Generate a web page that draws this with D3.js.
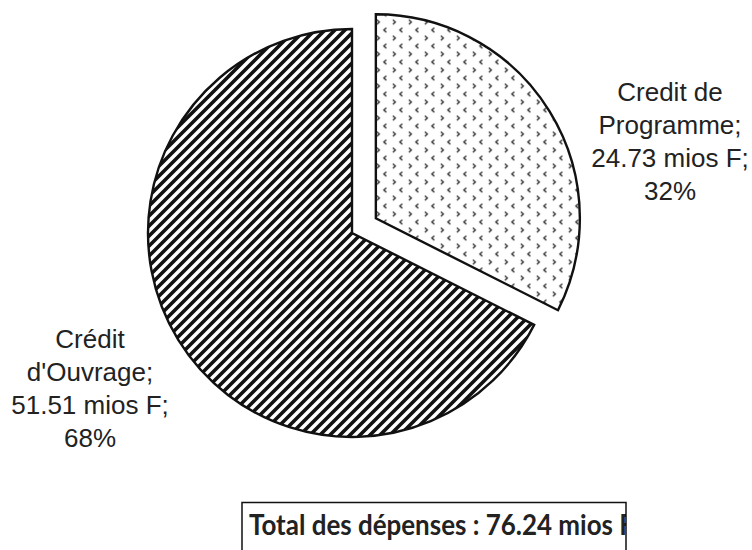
<!DOCTYPE html>
<html>
<head>
<meta charset="utf-8">
<script src="https://cdn.jsdelivr.net/npm/d3@7/dist/d3.min.js"></script>
<style>
  html, body { margin: 0; padding: 0; background: #fff; }
  svg { display: block; }
</style>
</head>
<body>
<svg id="chart" width="752" height="550"></svg>
<script>
// ---- data ----
const categories = ["Credit de Programme", "Crédit d'Ouvrage"];
const labelNameLines = [["Credit de", "Programme;"], ["Crédit", "d'Ouvrage;"]];
const values = [24.73, 51.51];
const percentLabels = ["32%", "68%"];
const totalLabel = "Total des dépenses : 76.24 mios F";

// ---- layout ----
const svg = d3.select("#chart");
const cx = 352, cy = 233, radius = 204, explode = 28;

const defs = svg.append("defs");
// dotted "< >" pattern
const dots = defs.append("pattern")
  .attr("id", "dots").attr("patternUnits", "userSpaceOnUse")
  .attr("width", 16).attr("height", 16);
dots.append("rect").attr("width", 16).attr("height", 16).attr("fill", "#fff");
dots.append("path").attr("d", "M10.5,1.5 L8,3.8 L10.5,6.1")
  .attr("fill", "none").attr("stroke", "#333").attr("stroke-width", 1.4);
dots.append("path").attr("d", "M1,9.5 L3.5,11.8 L1,14.1")
  .attr("fill", "none").attr("stroke", "#333").attr("stroke-width", 1.4);

// diagonal stripes pattern
const stripes = defs.append("pattern")
  .attr("id", "stripes").attr("patternUnits", "userSpaceOnUse")
  .attr("width", 10).attr("height", 10);
stripes.append("rect").attr("width", 10).attr("height", 10).attr("fill", "#fff");
stripes.append("path").attr("d", "M-5,5 L5,-5 M0,10 L10,0 M5,15 L15,5")
  .attr("stroke", "#111").attr("stroke-width", 3.6);

const fills = ["url(#dots)", "url(#stripes)"];

const pie = d3.pie().sort(null).value(d => d).startAngle(0).endAngle(2 * Math.PI);
const arcs = pie(values);
const arc = d3.arc().innerRadius(0).outerRadius(radius);

const g = svg.append("g").attr("transform", `translate(${cx},${cy})`);
g.selectAll("path.slice")
  .data(arcs)
  .join("path")
  .attr("class", "slice")
  .attr("transform", (d, i) => {
    if (i !== 0) return null;
    const a = (d.startAngle + d.endAngle) / 2;
    return `translate(${explode * Math.sin(a)},${-explode * Math.cos(a)})`;
  })
  .attr("d", arc)
  .attr("fill", (d, i) => fills[i])
  .attr("stroke", "#111")
  .attr("stroke-width", 2.4)
  .attr("stroke-linejoin", "miter");

// ---- data labels ----
const labelPos = [{x: 670, y: 101}, {x: 90, y: 348}];
const lineH = 33;
values.forEach((v, i) => {
  const lines = [...labelNameLines[i], `${v.toFixed(2)} mios F;`, percentLabels[i]];
  const t = svg.append("text")
    .attr("x", labelPos[i].x).attr("y", labelPos[i].y)
    .attr("text-anchor", "middle")
    .attr("font-family", "'Liberation Sans', Arial, sans-serif")
    .attr("font-size", 26)
    .attr("fill", "#222");
  lines.forEach((l, k) => {
    t.append("tspan").attr("x", labelPos[i].x).attr("y", labelPos[i].y + k * lineH).text(l);
  });
});

// ---- total box ----
const clip = defs.append("clipPath").attr("id", "boxclip");
clip.append("rect").attr("x", 242).attr("y", 502).attr("width", 384).attr("height", 60);
svg.append("text")
  .attr("clip-path", "url(#boxclip)")
  .attr("x", 249).attr("y", 535)
  .attr("font-family", "Lato, 'Open Sans', sans-serif")
  .attr("font-weight", "bold")
  .attr("font-size", 28)
  .attr("fill", "#222")
  .attr("textLength", 385)
  .attr("lengthAdjust", "spacingAndGlyphs")
  .text(totalLabel);
svg.append("path")
  .attr("d", "M242,560 L242,502.5 L626,502.5 L626,560")
  .attr("fill", "none").attr("stroke", "#111").attr("stroke-width", 1.5);
</script>
</body>
</html>
